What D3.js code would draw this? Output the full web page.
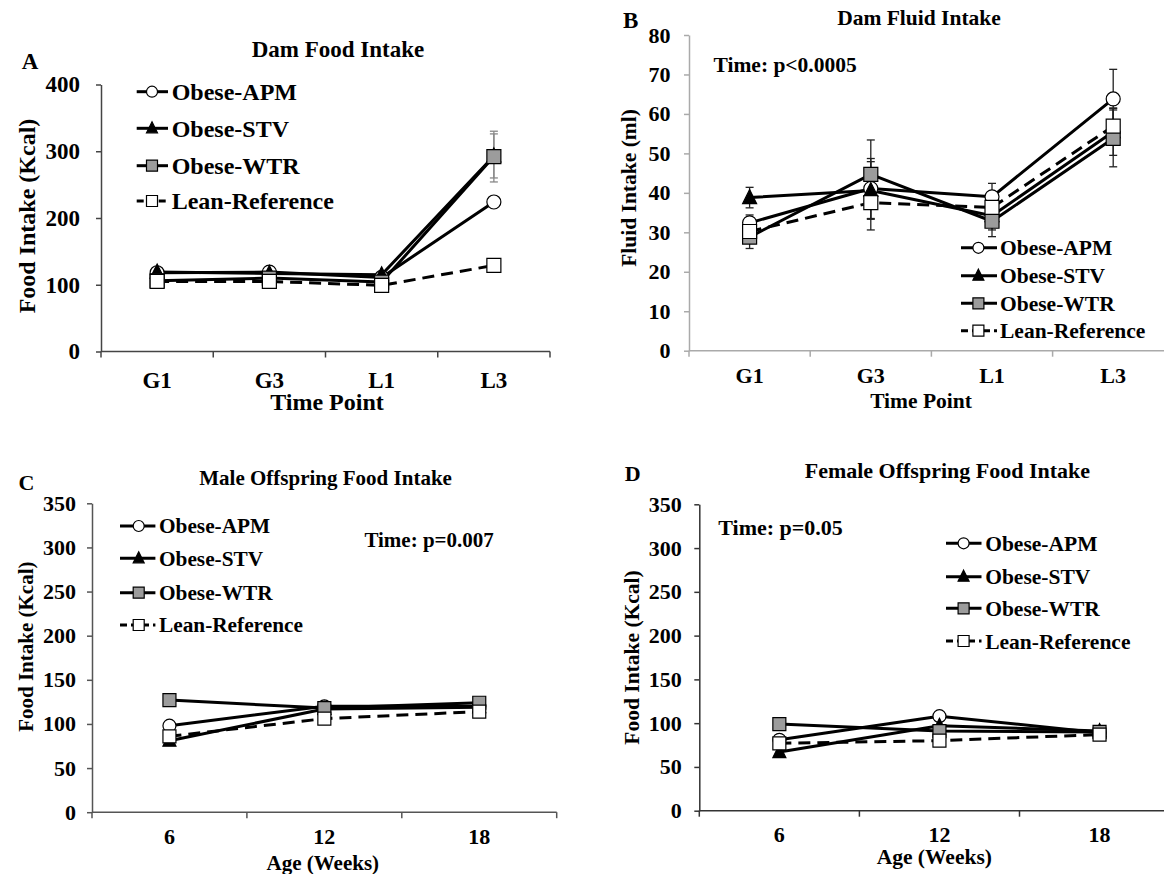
<!DOCTYPE html>
<html>
<head>
<meta charset="utf-8">
<script src="https://cdn.jsdelivr.net/npm/d3@7"></script>
<style>
  html, body { margin: 0; padding: 0; background: #fff; }
  svg { display: block; }
  text { font-family: "Liberation Serif", "Times New Roman", serif; font-weight: bold; fill: #000; }
</style>
</head>
<body>
<svg id="fig" width="1164" height="874"></svg>
<script>
// ---- groups and categories ----
const seriesNames = ["Obese-APM", "Obese-STV", "Obese-WTR", "Lean-Reference"];
const timePoints = ["G1", "G3", "L1", "L3"];
const ageWeeks = ["6", "12", "18"];

// ---- A: dam food intake (Kcal) ----
const damFoodAPM  = [118, 119, 111, 224];
const damFoodSTV  = [119, 117, 115, 293];
const damFoodWTR  = [106, 110, 104, 292];
const damFoodLean = [105, 105, 99, 129];
const damFoodErrAPM  = [null, null, null, null];
const damFoodErrSTV  = [null, null, null, 33];
const damFoodErrWTR  = [null, null, null, 38];
const damFoodErrLean = [null, null, null, null];
const damFoodTicks = [0, 100, 200, 300, 400];

// ---- B: dam fluid intake (ml) ----
const damFluidAPM  = [32.4, 41.1, 39.0, 63.8];
const damFluidSTV  = [38.8, 40.6, 34.2, 55.5];
const damFluidWTR  = [28.8, 44.7, 32.8, 53.8];
const damFluidLean = [30.2, 37.5, 36.3, 56.9];
const damFluidErrAPM  = [2.0, 7.6, 3.4, 7.5];
const damFluidErrSTV  = [2.6, 7.3, 3.6, 6.0];
const damFluidErrWTR  = [2.9, 8.7, 3.9, 7.2];
const damFluidErrLean = [2.0, 6.9, 2.5, 4.5];
const damFluidTicks = [0, 10, 20, 30, 40, 50, 60, 70, 80];

// ---- C: male offspring food intake (Kcal) ----
const maleAPM  = [98, 120, 120];
const maleSTV  = [81, 117, 119];
const maleWTR  = [127, 118, 124];
const maleLean = [86, 106, 114];

// ---- D: female offspring food intake (Kcal) ----
const femaleAPM  = [81, 108, 89];
const femaleSTV  = [67, 97, 91];
const femaleWTR  = [99, 91, 90];
const femaleLean = [77, 80, 87];

const offspringTicks = [0, 50, 100, 150, 200, 250, 300, 350];

// ---- series styling ----
const seriesStyle = [
  { shape: "circle",   fill: "#ffffff", dash: null },
  { shape: "triangle", fill: "#000000", dash: null },
  { shape: "square",   fill: "#9c9c9c", dash: null },
  { shape: "square",   fill: "#ffffff", dash: "12,7" }
];

const svg = d3.select("#fig");
svg.append("rect").attr("width", 1164).attr("height", 874).attr("fill", "#fff");

function markerPath(shape, s) {
  const h = s / 2;
  if (shape === "circle") {
    const p = d3.path(); p.arc(0, 0, h, 0, 2 * Math.PI); return p.toString();
  }
  if (shape === "triangle") {
    return `M0,${-h - 1}L${h},${h - 1}L${-h},${h - 1}Z`;
  }
  return `M${-h},${-h}H${h}V${h}H${-h}Z`;
}

function drawPanel(cfg) {
  const g = svg.append("g");
  const x = d3.scaleBand().domain(cfg.cats).range([cfg.x0, cfg.x1]).paddingInner(0).paddingOuter(0);
  const y = d3.scaleLinear().domain([0, cfg.ymax]).range([cfg.yBot, cfg.yTop]);
  const cx = c => x(c) + x.bandwidth() / 2;

  // y axis
  const yAxis = d3.axisLeft(y).tickValues(cfg.ticks).tickSize(5).tickSizeOuter(0)
    .tickPadding(cfg.tickPad).tickFormat(d3.format("d"));
  const ya = g.append("g").attr("transform", `translate(${cfg.x0},0)`).call(yAxis);
  ya.select(".domain").attr("stroke", cfg.axisColor).attr("stroke-width", 1.5);
  ya.selectAll(".tick line").attr("stroke", cfg.axisColor).attr("stroke-width", 1.5);
  ya.selectAll(".tick text")
    .attr("font-family", null).attr("font-size", cfg.tickFont)
    .style("font-family", '"Liberation Serif", "Times New Roman", serif')
    .style("font-weight", "bold").attr("fill", "#000");

  // x axis line with category boundary ticks
  g.append("line").attr("x1", cfg.x0).attr("x2", cfg.x1)
    .attr("y1", cfg.yBot).attr("y2", cfg.yBot)
    .attr("stroke", cfg.axisColor).attr("stroke-width", 1.5);
  const bounds = cfg.cats.map(c => x(c)).concat([cfg.x1]);
  g.selectAll(null).data(bounds).join("line")
    .attr("x1", d => d).attr("x2", d => d)
    .attr("y1", cfg.yBot).attr("y2", cfg.yBot + 6)
    .attr("stroke", cfg.axisColor).attr("stroke-width", 1.5);
  g.selectAll(null).data(cfg.cats).join("text")
    .attr("x", d => cx(d)).attr("y", cfg.xLabelY)
    .attr("text-anchor", "middle").attr("font-size", cfg.tickFont)
    .text(d => d);

  // axis titles, panel title, panel letter
  g.append("text").attr("x", cfg.xTitle[0]).attr("y", cfg.xTitle[1])
    .attr("text-anchor", "middle").attr("font-size", cfg.xTitleFont).text(cfg.xTitleText);
  g.append("text")
    .attr("transform", `translate(${cfg.yTitle[0]},${cfg.yTitle[1]}) rotate(-90)`)
    .attr("text-anchor", "middle").attr("font-size", cfg.yTitleFont).text(cfg.yTitleText);
  g.append("text").attr("x", cfg.title[0]).attr("y", cfg.title[1])
    .attr("text-anchor", "middle").attr("font-size", cfg.titleFont).text(cfg.titleText);
  g.append("text").attr("x", cfg.letter[0]).attr("y", cfg.letter[1])
    .attr("font-size", cfg.letterFont).text(cfg.letterText);
  if (cfg.note) {
    g.append("text").attr("x", cfg.note[0]).attr("y", cfg.note[1])
      .attr("font-size", cfg.noteFont).text(cfg.noteText);
  }

  const line = d3.line().x(d => cx(d.c)).y(d => y(d.v));
  const rows = cfg.series.map((vals, i) => vals.map((v, j) => ({ c: cfg.cats[j], v, e: cfg.errors ? cfg.errors[i][j] : null })));

  // connecting lines
  rows.forEach((pts, i) => {
    g.append("path").datum(pts).attr("d", line)
      .attr("fill", "none").attr("stroke", "#000").attr("stroke-width", 3)
      .attr("stroke-linejoin", "round")
      .attr("stroke-dasharray", seriesStyle[i].dash);
  });

  // error bars (SEM)
  rows.forEach(pts => {
    const eb = pts.filter(d => d.e != null && d.e > 0);
    const ge = g.append("g").attr("stroke", cfg.errColor).attr("stroke-width", 1.3);
    ge.selectAll(null).data(eb).join("line")
      .attr("x1", d => cx(d.c)).attr("x2", d => cx(d.c))
      .attr("y1", d => y(d.v - d.e)).attr("y2", d => y(d.v + d.e));
    ["-", "+"].forEach(sgn => {
      ge.selectAll(null).data(eb).join("line")
        .attr("x1", d => cx(d.c) - 4).attr("x2", d => cx(d.c) + 4)
        .attr("y1", d => y(sgn === "-" ? d.v - d.e : d.v + d.e))
        .attr("y2", d => y(sgn === "-" ? d.v - d.e : d.v + d.e));
    });
  });

  // markers
  rows.forEach((pts, i) => {
    g.selectAll(null).data(pts).join("path")
      .attr("transform", d => `translate(${cx(d.c)},${y(d.v)})`)
      .attr("d", markerPath(seriesStyle[i].shape, cfg.markerSize))
      .attr("fill", seriesStyle[i].fill).attr("stroke", "#000").attr("stroke-width", 1.2);
  });

  // legend
  const lg = g.append("g");
  seriesNames.forEach((name, i) => {
    const ry = cfg.legend.rows[i];
    lg.append("line").attr("x1", cfg.legend.line[0]).attr("x2", cfg.legend.line[1])
      .attr("y1", ry).attr("y2", ry).attr("stroke", "#000").attr("stroke-width", 3)
      .attr("stroke-dasharray", seriesStyle[i].dash ? "7,4" : null);
    lg.append("path").attr("transform", `translate(${cfg.legend.marker},${ry})`)
      .attr("d", markerPath(seriesStyle[i].shape, 11))
      .attr("fill", seriesStyle[i].fill).attr("stroke", "#000").attr("stroke-width", 1.2);
    lg.append("text").attr("x", cfg.legend.text).attr("y", ry).attr("dy", "0.35em")
      .attr("font-size", cfg.legend.font).text(name);
  });
}

// A
drawPanel({
  cats: timePoints, x0: 101, x1: 550, yTop: 84.5, yBot: 351.5, ymax: 400, ticks: damFoodTicks,
  tickFont: 23, tickPad: 16, xLabelY: 388, axisColor: "#444", errColor: "#888",
  xTitle: [327, 410], xTitleFont: 24, xTitleText: "Time Point",
  yTitle: [34.5, 216], yTitleFont: 24, yTitleText: "Food Intake (Kcal)",
  title: [338, 57], titleFont: 23, titleText: "Dam Food Intake",
  letter: [21.7, 69.3], letterFont: 23, letterText: "A",
  series: [damFoodAPM, damFoodSTV, damFoodWTR, damFoodLean],
  errors: [damFoodErrAPM, damFoodErrSTV, damFoodErrWTR, damFoodErrLean],
  markerSize: 14,
  legend: { line: [136.7, 168], marker: 152, text: 171.7, rows: [91.7, 128.3, 165.7, 201], font: 24 }
});

// B
drawPanel({
  cats: timePoints, x0: 689, x1: 1173.8, yTop: 35, yBot: 350.7, ymax: 80, ticks: damFluidTicks,
  tickFont: 22, tickPad: 13.5, xLabelY: 383, axisColor: "#aaa", errColor: "#222",
  xTitle: [921, 408], xTitleFont: 21.5, xTitleText: "Time Point",
  yTitle: [635.5, 188], yTitleFont: 21.5, yTitleText: "Fluid Intake (ml)",
  title: [919, 25], titleFont: 21.5, titleText: "Dam Fluid Intake",
  letter: [623, 28], letterFont: 23, letterText: "B",
  note: [713.5, 72], noteFont: 21.5, noteText: "Time: p<0.0005",
  series: [damFluidAPM, damFluidSTV, damFluidWTR, damFluidLean],
  errors: [damFluidErrAPM, damFluidErrSTV, damFluidErrWTR, damFluidErrLean],
  markerSize: 14,
  legend: { line: [961, 997], marker: 978.4, text: 1000, rows: [247.8, 275.7, 303.3, 330.7], font: 21.5 }
});

// C
drawPanel({
  cats: ageWeeks, x0: 92, x1: 556.7, yTop: 503.3, yBot: 812.2, ymax: 350, ticks: offspringTicks,
  tickFont: 22, tickPad: 11, xLabelY: 844, axisColor: "#555", errColor: "#222",
  xTitle: [322.8, 870], xTitleFont: 21, xTitleText: "Age (Weeks)",
  yTitle: [33, 646.7], yTitleFont: 21, yTitleText: "Food Intake (Kcal)",
  title: [325.6, 485], titleFont: 21, titleText: "Male Offspring Food Intake",
  letter: [18.5, 490], letterFont: 22, letterText: "C",
  note: [364.4, 546.7], noteFont: 21, noteText: "Time: p=0.007",
  series: [maleAPM, maleSTV, maleWTR, maleLean],
  errors: null,
  markerSize: 13,
  legend: { line: [120, 155.4], marker: 138.7, text: 159, rows: [526, 558.3, 592.7, 625], font: 21.3 }
});

// D
drawPanel({
  cats: ageWeeks, x0: 699.3, x1: 1179.6, yTop: 504.3, yBot: 810.7, ymax: 350, ticks: offspringTicks,
  tickFont: 22, tickPad: 12.6, xLabelY: 842, axisColor: "#333", errColor: "#222",
  xTitle: [934.3, 864], xTitleFont: 21.5, xTitleText: "Age (Weeks)",
  yTitle: [639, 657.5], yTitleFont: 21.5, yTitleText: "Food Intake (Kcal)",
  title: [947.4, 478], titleFont: 22, titleText: "Female Offspring Food Intake",
  letter: [624.7, 480.7], letterFont: 22, letterText: "D",
  note: [718.3, 535], noteFont: 22, noteText: "Time: p=0.05",
  series: [femaleAPM, femaleSTV, femaleWTR, femaleLean],
  errors: null,
  markerSize: 13,
  legend: { line: [946, 981.5], marker: 963.6, text: 985.2, rows: [543.3, 576.7, 608.3, 641], font: 21.5 }
});
</script>
</body>
</html>
